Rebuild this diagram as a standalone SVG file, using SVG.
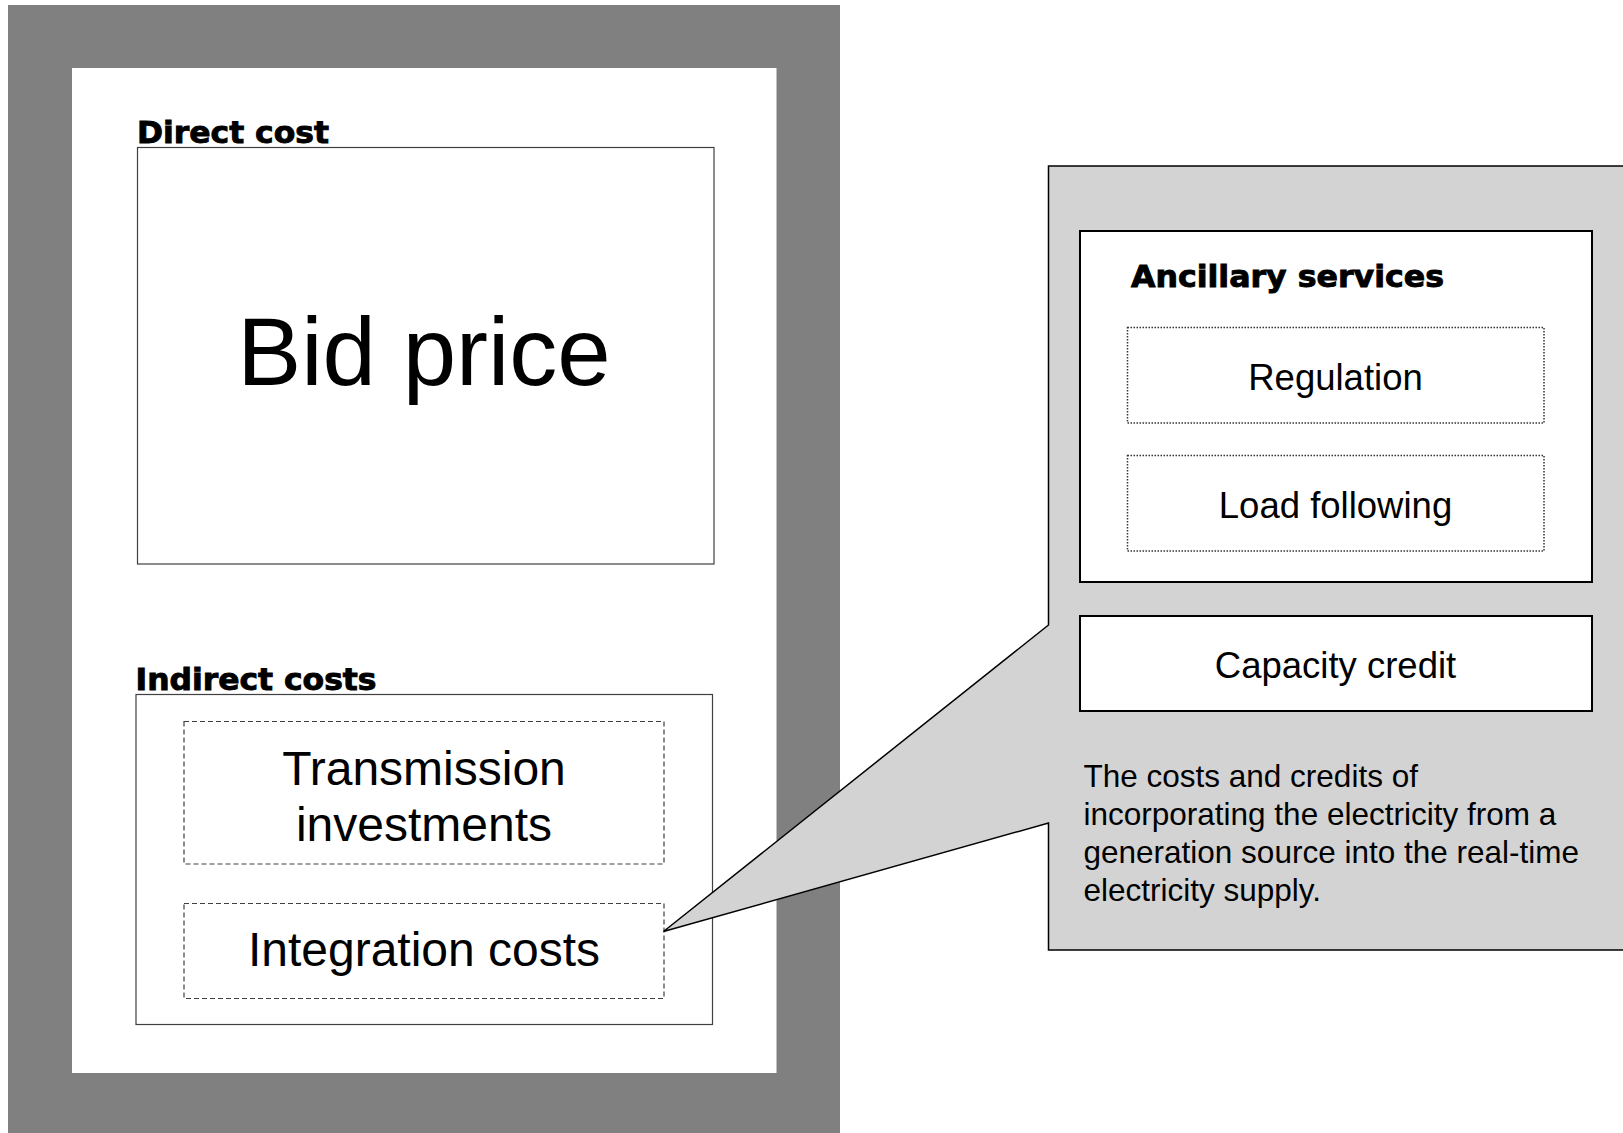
<svg xmlns="http://www.w3.org/2000/svg" width="1623" height="1133" viewBox="0 0 1623 1133">
<style>
.box{fill:#fff;stroke:#404040;stroke-width:1.2}
.dash{fill:#fff;stroke:#404040;stroke-width:1.2;stroke-dasharray:5 3}
.dot{fill:#fff;stroke:#333;stroke-width:1.5;stroke-dasharray:1.5 1.5}
.solid{fill:#fff;stroke:#000;stroke-width:2}
.hdr{font-family:"DejaVu Sans","Liberation Sans",sans-serif;font-weight:bold;fill:#000;stroke:#000;stroke-width:0.9}
.t{font-family:"Liberation Sans",Arial,sans-serif;fill:#000;text-anchor:middle}
.p{font-family:"Liberation Sans",Arial,sans-serif;fill:#000;font-size:31.5px}
</style>
<g id="frame">
<rect x="8" y="5" width="832" height="1130" fill="#808080"/>
<rect x="72" y="68" width="704.5" height="1005" fill="#fff"/>
</g>
<g id="direct-cost">
<text class="hdr" x="137" y="143" font-size="30" textLength="192" lengthAdjust="spacingAndGlyphs">Direct cost</text>
<rect class="box" x="137.5" y="147.5" width="576.5" height="416.5"/>
<text class="t" x="424" y="385" font-size="96">Bid price</text>
</g>
<g id="indirect-costs">
<text class="hdr" x="135.5" y="690" font-size="30" textLength="241" lengthAdjust="spacingAndGlyphs">Indirect costs</text>
<rect class="box" x="136" y="694.5" width="576.5" height="330"/>
</g>
<g id="transmission">
<rect class="dash" x="184" y="721.5" width="480" height="142.5"/>
<text class="t" x="424" y="784.5" font-size="48">Transmission</text>
<text class="t" x="424" y="840.5" font-size="48">investments</text>
</g>
<g id="integration">
<rect class="dash" x="184" y="903.5" width="480" height="95"/>
<text class="t" x="424" y="966" font-size="48">Integration costs</text>
</g>
<g id="connectors">
<path d="M1048.5,166 L1630,166 L1630,950 L1048.5,950 L1048.5,823 L663.5,931.5 L1048.5,625 Z" fill="#d3d3d3" stroke="#000" stroke-width="1.5" stroke-linejoin="miter"/>
</g>
<g id="ancillary-services">
<rect class="solid" x="1080" y="231" width="512" height="351"/>
<text class="hdr" x="1131" y="287" font-size="30" textLength="313" lengthAdjust="spacingAndGlyphs">Ancillary services</text>
</g>
<g id="regulation">
<rect class="dot" x="1127.5" y="327.5" width="416.5" height="95.5"/>
<text class="t" x="1335.5" y="390" font-size="36.5">Regulation</text>
</g>
<g id="load-following">
<rect class="dot" x="1127.5" y="455.5" width="416.5" height="95.5"/>
<text class="t" x="1335.5" y="517.5" font-size="36.5">Load following</text>
</g>
<g id="capacity-credit">
<rect class="solid" x="1080" y="616" width="512" height="95"/>
<text class="t" x="1335.5" y="678" font-size="36.5">Capacity credit</text>
</g>
<g id="description">
<text class="p" x="1083.5" y="786.5">The costs and credits of</text>
<text class="p" x="1083.5" y="825">incorporating the electricity from a</text>
<text class="p" x="1083.5" y="863">generation source into the real-time</text>
<text class="p" x="1083.5" y="900.5">electricity supply.</text>
</g>
</svg>
